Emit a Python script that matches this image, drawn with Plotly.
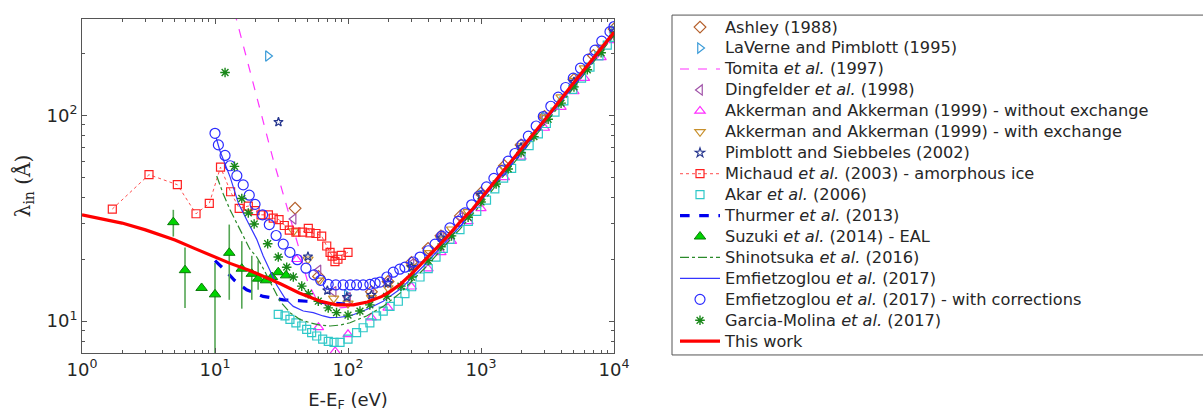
import plotly.graph_objects as go
import math

# ---------------- data ----------------
ashley_E = [40, 60, 150, 200, 300, 400, 500, 700, 1000, 1500, 2000, 3000, 5000, 7000, 10000]
ashley_L = [35.4, 16.5, 13.9, 15.6, 19.3, 22.6, 26, 32.5, 42, 57, 72, 99, 150, 196, 264]

laverne_E = [25, 98, 300, 1000, 3000, 10000]
laverne_L = [195, 13.4, 18.5, 41, 98, 258]

tomita_E = [14, 18, 23.1, 25.2, 27.4, 30.8, 34.6, 38.8, 43.5, 46.1, 50.3, 56.5, 65.2, 73.3, 85, 100, 120]
tomita_L = [320, 172, 93.5, 73, 61, 47, 36.1, 28.4, 21.8, 18.5, 15.2, 13.2, 12.2, 11.8, 11.6, 11.7, 12.0]

dingfelder_E = [39, 60, 78, 100, 150, 200, 300, 500, 700, 1000, 2000, 3000, 5000, 10000]
dingfelder_L = [31.4, 17.7, 13.9, 13.0, 13.4, 15.5, 19.0, 26, 32, 41, 70, 97, 146, 255]

akk_wo_E = [41, 60, 80, 100, 150, 200, 300, 400, 500, 600, 800, 1000, 1500, 2000, 3000, 4000, 5000, 6000, 8000, 10000]
akk_wo_L = [20.0, 9.33, 7.13, 8.63, 10.4, 11.6, 14.7, 18.0, 21.6, 24.5, 30.6, 35.4, 50, 63, 87, 110, 131, 152, 192, 232]

akk_w_E = [39, 50, 61, 78, 100, 150, 200, 300, 400, 500, 600, 800, 1000, 1500, 2000, 3000, 4000, 5000, 6000, 8000, 10000]
akk_w_L = [27.4, 20.0, 15.8, 12.9, 12.2, 13.0, 14.5, 18.3, 21.5, 25, 28, 34, 41, 56, 71, 98, 123, 148, 170, 215, 262]

pimblott_E = [30, 50, 70, 98, 150, 200, 300, 500, 1000, 2000, 5000, 10000]
pimblott_L = [93, 20.6, 14.1, 13.1, 13.4, 15.3, 18.3, 25.5, 41, 70, 146, 256]

michaud_E = [1.69, 3.19, 5.21, 7.2, 9.06, 11.0, 13.1, 15.2, 17.8, 20, 22.2, 25.2, 27.4, 30.3, 33.2,
             36.2, 40.6, 45.6, 50.3, 51.8, 57.4, 63.4, 69.2, 73.3, 76, 79.8, 84, 89, 100]
michaud_L = [35.1, 51.6, 46.1, 33.3, 37.4, 56.1, 42.6, 35.4, 36.3, 34.5, 32.9, 32.9, 31.7, 31.2, 29.2,
             27.7, 27.1, 27.1, 28.3, 26.9, 26.7, 25.9, 23.2, 21.6, 20.7, 19.5, 20.0, 20.9, 21.6]

akar_E = [29.9, 33.6, 36.6, 40.6, 44.9, 48.9, 53.3, 58.2, 64.5, 71.1, 78.5, 87.1, 100, 116, 130, 146,
          164, 184, 207, 239, 268, 301, 348, 401, 459, 520, 584, 695, 803, 929, 1100, 1270, 1480,
          1700, 2000, 2300, 2700, 3100, 3600, 4200, 4900, 5700, 6600, 7700, 8900, 10000]
akar_L = [10.8, 10.6, 10.2, 9.8, 9.47, 9.13, 8.79, 8.47, 8.18, 7.97, 7.88, 7.88, 8.18, 8.79, 9.29, 9.82,
          10.6, 11.2, 11.8, 12.5, 13.6, 14.7, 16.4, 18.0, 20.5, 22.6, 25.0, 27.9, 30.6, 34.2, 38.8, 44,
          49.6, 55.4, 63.5, 71.5, 81.5, 91.5, 104, 118, 134, 152, 172, 195, 220, 240]

thurmer_E = [10, 12, 14, 17.3, 23, 32.6, 48.9, 77.5, 95]
thurmer_L = [19.7, 17.6, 15.8, 14.2, 13.2, 12.7, 12.5, 12.2, 12.1]

suzuki_E = [4.86, 5.95, 7.93, 10, 12.8, 15.9, 18.9, 21.1, 24.2, 26.8, 29.9, 34.2]
suzuki_L = [30.3, 17.7, 14.5, 13.5, 21.5, 18.0, 17.0, 16.1, 15.8, 16.4, 17.3, 16.7]
suzuki_err_plus = [4.5, 5.1, 0, 5.7, 8.0, 6.5, 3.8, 3.6, 0, 0, 0, 0]
suzuki_err_minus = [4.5, 6.1, 0, 8.5, 8.8, 6.5, 4.3, 1.9, 0, 0, 0, 0]

shinotsuka_E = [10.3, 11.5, 13, 14.6, 16.3, 18.3, 20.6, 23.1, 26.7, 30.8, 36.6, 43.5, 51.8, 61.6, 73.3,
                87.1, 103.5, 119, 138, 184, 250, 300, 400, 500, 700, 1000, 2000, 5000, 10000]
shinotsuka_L = [50.8, 41.8, 34.7, 30.0, 26.0, 22.4, 20.5, 18.0, 15.0, 12.5, 11.0, 10.2, 9.82, 9.57, 9.47,
                9.57, 9.82, 10.2, 10.6, 11.8, 13.8, 15.6, 18.8, 22.2, 28.2, 37, 65, 137, 246]

emf_E = [10.2, 10.9, 13, 15, 17.8, 20.6, 23, 25.5, 29.1, 33.6, 38.8, 46.1, 54.8, 65, 73.3, 87, 103.5,
         138, 184, 250, 300, 400, 500, 700, 1000, 2000, 5000, 10000]
emf_L = [78, 67.3, 50.2, 37.4, 30.0, 25.0, 20.8, 18.0, 15.0, 12.9, 11.8, 11.2, 11.0, 10.6, 10.4, 10.45, 10.6,
         11.4, 12.5, 14.4, 16.2, 19.5, 23, 29, 38.5, 67, 140, 250]

emfc_E = [10, 10.6, 11.9, 13, 14.6, 16.3, 18.1, 20, 22.8, 25.6, 28.8, 32.6, 36.6, 41.6, 48.3, 55.5, 62.3,
          71, 81, 92, 104, 116, 130, 146, 160, 174, 196, 219, 245, 268, 310, 348, 401, 451, 506, 584,
          675, 758, 851, 955, 1100, 1250, 1430, 1600, 1800, 2030, 2270, 2600, 2940, 3350, 3810, 4330,
          4940, 5600, 6410, 7200, 8090, 9330, 10000]
emfc_L = [82, 72, 64, 57, 51, 46, 41, 37, 32.9, 29.5, 26.1, 23.7, 21.6, 19.9, 18.1, 16.8, 15.8,
          15.1, 15.0, 15.0, 15.0, 15.0, 15.0, 15.1, 15.3, 15.5, 16.4, 17.3, 17.9, 18.3, 19.4, 20.5, 22.0,
          23.7, 25.9, 28.4, 30.6, 33.6, 36.8, 40.3, 45, 49.5, 54, 60, 65.4, 72, 79.4, 89, 98.9, 111, 123,
          137, 152, 170, 188, 208, 230, 256, 271]

garcia_E = [11.9, 14, 15.9, 17.8, 19.7, 24.9, 29.9, 34.6, 38.8, 44.9, 50.3, 59.8, 71, 82, 100, 123, 146,
            195, 250, 300, 400, 500, 600, 800, 1000, 1300, 1600, 2000, 2500, 3200, 4000, 5000, 6300,
            8000, 10000]
garcia_L = [162, 56.6, 39.5, 33.6, 29.7, 23.8, 20.5, 18.3, 16.4, 14.8, 13.6, 12.5, 11.6, 11.0, 10.7, 11.2,
            12.0, 13.2, 14.8, 16.4, 19.7, 23, 26, 32, 38, 46.5, 55, 66, 79, 96, 115, 138, 167, 202, 245]

thiswork_E = [1, 1.5, 2, 3, 4, 5, 7, 10, 13, 18, 24, 31, 43, 62, 82, 110, 140, 180, 210, 250, 310,
              370, 450, 550, 700, 875, 1000, 1500, 2000, 3000, 5000, 7000, 10000]
thiswork_L = [32.9, 31.3, 30.0, 27.8, 26.1, 24.8, 22.6, 20.5, 19.1, 17.7, 16.4, 15.2, 13.7, 12.5, 12.0, 12.0,
              12.4, 13.2, 14.0, 15.2, 17.3, 19.5, 22.2, 25.5, 30.5, 35.4, 39.5, 54.5, 69, 95, 145, 190, 254]

x_tickvals = [1, 10, 100, 1000, 10000]
x_ticktext = ["10<sup>0</sup>", "10<sup>1</sup>", "10<sup>2</sup>", "10<sup>3</sup>", "10<sup>4</sup>"]
y_tickvals = [10, 100]
y_ticktext = ["10<sup>1</sup>", "10<sup>2</sup>"]

# ---------------- figure ----------------
LEG_FS = 16.2


def nm(s):
    return '<span style="font-size:%gpx">%s</span>' % (LEG_FS, s)


fig = go.Figure()


def mk(x, y, name, symbol, color, size=8, width=1.2):
    fig.add_trace(go.Scatter(x=x, y=y, mode="markers", name=nm(name),
                             marker=dict(symbol=symbol, size=size, color=color,
                                         line=dict(color=color, width=width))))


mk(ashley_E, ashley_L, "Ashley (1988)", "diamond-open", "#b5602c", 9)
mk(laverne_E, laverne_L, "LaVerne and Pimblott (1995)", "triangle-right-open", "#3a9bd8", 9)
fig.add_trace(go.Scatter(x=tomita_E, y=tomita_L, mode="lines", name=nm("Tomita <i>et al.</i> (1997)"),
                         line=dict(color="#ff33ff", width=1.2, dash="dash")))
mk(dingfelder_E, dingfelder_L, "Dingfelder <i>et al.</i> (1998)", "triangle-left-open", "#a052a8", 9)
mk(akk_wo_E, akk_wo_L, "Akkerman and Akkerman (1999) - without exchange", "triangle-up-open", "#ff2bff", 9)
mk(akk_w_E, akk_w_L, "Akkerman and Akkerman (1999) - with exchange", "triangle-down-open", "#c8902c", 9)
mk(pimblott_E, pimblott_L, "Pimblott and Siebbeles (2002)", "star-open", "#27378f", 7)
fig.add_trace(go.Scatter(x=michaud_E, y=michaud_L, mode="lines+markers",
                         name=nm("Michaud <i>et al.</i> (2003) - amorphous ice"),
                         line=dict(color="#ff4d4d", width=1, dash="dot"),
                         marker=dict(symbol="square-open", size=8, color="#ff2020",
                                     line=dict(color="#ff2020", width=1.2))))
mk(akar_E, akar_L, "Akar <i>et al.</i> (2006)", "square-open", "#2ec8c8", 8)
fig.add_trace(go.Scatter(x=thurmer_E, y=thurmer_L, mode="lines", name=nm("Thurmer <i>et al.</i> (2013)"),
                         line=dict(color="#0000ee", width=3.2, dash="dash")))
fig.add_trace(go.Scatter(x=suzuki_E, y=suzuki_L, mode="markers", name=nm("Suzuki <i>et al.</i> (2014) - EAL"),
                         marker=dict(symbol="triangle-up", size=10, color="#00d400",
                                     line=dict(color="#0a7a0a", width=1)),
                         error_y=dict(type="data", array=suzuki_err_plus, arrayminus=suzuki_err_minus,
                                      color="#55a655", thickness=1.6, width=0)))
fig.add_trace(go.Scatter(x=shinotsuka_E, y=shinotsuka_L, mode="lines",
                         name=nm("Shinotsuka <i>et al.</i> (2016)"),
                         line=dict(color="#2a8a2a", width=1.2, dash="dashdot")))
fig.add_trace(go.Scatter(x=emf_E, y=emf_L, mode="lines", name=nm("Emfietzoglou <i>et al.</i> (2017)"),
                         line=dict(color="#3535ff", width=1.2)))
mk(emfc_E, emfc_L, "Emfietzoglou <i>et al.</i> (2017) - with corrections", "circle-open", "#2a2aff", 10)
mk(garcia_E, garcia_L, "Garcia-Molina <i>et al.</i> (2017)", "asterisk-open", "#1a881a", 8, 1.4)
fig.add_trace(go.Scatter(x=thiswork_E, y=thiswork_L, mode="lines", name=nm("This work"),
                         line=dict(color="#ff0000", width=3.2)))

AX = "#555555"
TXT = "#262626"
x_minor = [m * 10 ** d for d in range(0, 4) for m in range(2, 10)]
y_minor = [7, 8, 9] + [m * 10 for m in range(2, 10)] + [200]

PL, PR, PT, PB = 82, 614, 12, 353
W, H = 1203, 419
pw, ph = PR - PL, PB - PT

fig.update_layout(
    width=W, height=H,
    margin=dict(l=PL, r=W - PR, t=PT, b=H - PB, pad=0),
    paper_bgcolor="white", plot_bgcolor="white",
    font=dict(family="DejaVu Sans", color=TXT),
    showlegend=True,
    legend=dict(x=(675 - PL) / pw, y=(PB - 4.5) / ph, xanchor="left", yanchor="top",
                font=dict(size=13.8, family="DejaVu Sans", color=TXT),
                bgcolor="rgba(0,0,0,0)", borderwidth=0, tracegroupgap=0, itemwidth=40,
                maxheight=420),
    xaxis=dict(type="log", range=[0, 4], tickmode="array", tickvals=x_tickvals, ticktext=x_ticktext,
               ticks="inside", ticklen=5, tickwidth=1, tickcolor=AX,
               showline=True, linecolor=AX, linewidth=1, mirror="allticks",
               showgrid=False, zeroline=False,
               minor=dict(tickmode="array", tickvals=x_minor, ticks="inside", ticklen=3,
                          tickcolor=AX, tickwidth=1, showgrid=False),
               tickfont=dict(size=18, color=TXT),
               title=dict(text="E-E<sub>F</sub> (eV)", font=dict(size=18, color=TXT), standoff=14)),
    yaxis=dict(type="log", range=[math.log10(7), math.log10(295)], tickmode="array",
               tickvals=y_tickvals, ticktext=y_ticktext,
               ticks="inside", ticklen=5, tickwidth=1, tickcolor=AX,
               showline=True, linecolor=AX, linewidth=1, mirror="allticks",
               showgrid=False, zeroline=False,
               minor=dict(tickmode="array", tickvals=y_minor, ticks="inside", ticklen=3,
                          tickcolor=AX, tickwidth=1, showgrid=False),
               tickfont=dict(size=18, color=TXT),
               title=dict(text="λ<sub>in</sub> (Å)", font=dict(size=20, family="DejaVu Serif", color=TXT),
                          standoff=10)),
    shapes=[dict(type="rect", xref="paper", yref="paper",
                 x0=(672 - PL) / pw, x1=(1215 - PL) / pw,
                 y0=(PB - 355) / ph, y1=(PB - 8) / ph,
                 line=dict(color=AX, width=1), fillcolor="rgba(0,0,0,0)", layer="above")],
)

fig.write_html("out.html")
